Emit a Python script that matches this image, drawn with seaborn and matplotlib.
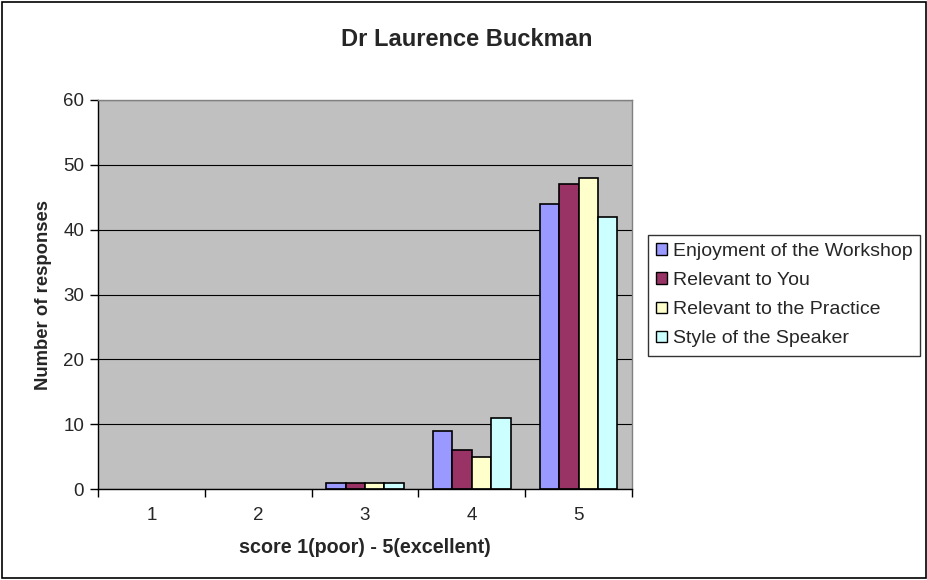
import matplotlib.pyplot as plt
import matplotlib.patches as mpatches
import pandas as pd
import seaborn as sns

scores = ["1", "2", "3", "4", "5"]
enjoyment = [0, 0, 1, 9, 44]
relevant_you = [0, 0, 1, 6, 47]
relevant_practice = [0, 0, 1, 5, 48]
style_speaker = [0, 0, 1, 11, 42]
series_names = ["Enjoyment of the Workshop", "Relevant to You",
                "Relevant to the Practice", "Style of the Speaker"]
colors = ["#9999FF", "#993366", "#FFFFCC", "#CCFFFF"]

df = pd.DataFrame({
    "score": scores * 4,
    "value": enjoyment + relevant_you + relevant_practice + style_speaker,
    "series": [s for s in series_names for _ in scores],
})

sns.set_theme(style="white")
plt.rcParams["font.family"] = ["Liberation Sans", "DejaVu Sans"]

fig = plt.figure(figsize=(9.28, 5.8), dpi=100)
ax = fig.add_axes([98 / 928, 1 - 489 / 580, (632 - 98) / 928, (489 - 100) / 580])

sns.barplot(data=df, x="score", y="value", hue="series", palette=colors,
            width=0.727, edgecolor="black", linewidth=1.2, saturation=1,
            legend=False, ax=ax)

# Excel draws nothing for zero-height bars
for p in ax.patches:
    if p.get_height() == 0:
        p.set_visible(False)

ax.set_facecolor("#C0C0C0")
ax.set_ylim(0, 60)
ax.set_yticks(range(0, 61, 10))
ax.set_xlim(-0.5, 4.5)
ax.yaxis.grid(True, color="black", linewidth=0.8)
ax.set_axisbelow(True)
for side in ["top", "right"]:
    ax.spines[side].set_color("#808080")
    ax.spines[side].set_linewidth(1)
for side in ["left", "bottom"]:
    ax.spines[side].set_color("black")
    ax.spines[side].set_linewidth(1)

# category boundary ticks on x axis
ax.set_xticks([i - 0.5 for i in range(6)], minor=True)
ax.tick_params(axis="x", which="minor", length=6, color="black", width=1, direction="out", bottom=True)
ax.tick_params(axis="x", which="major", length=0, labelsize=13.5, pad=13)
ax.tick_params(axis="y", length=6, color="black", width=1, direction="out", left=True,
               labelsize=13.5, pad=4)

ax.set_xlabel("score 1(poor) - 5(excellent)", fontsize=14.2, fontweight="bold", labelpad=10)
ax.set_ylabel("Number of responses", fontsize=13.3, fontweight="bold", labelpad=8)
fig.text(0.503, 1 - 40 / 580, "Dr Laurence Buckman", ha="center", va="center",
         fontsize=17, fontweight="bold")

handles = [mpatches.Patch(facecolor=c, edgecolor="black", linewidth=1, label=n)
           for c, n in zip(colors, series_names)]
leg = fig.legend(handles=handles, loc="upper left",
                 bbox_to_anchor=(648 / 928, 1 - 235 / 580),
                 frameon=True, fancybox=False, fontsize=14,
                 handlelength=0.55, handleheight=0.55, handletextpad=0.3,
                 labelspacing=0.62, borderpad=0.42, borderaxespad=0)
leg.get_frame().set_edgecolor("black")
leg.get_frame().set_linewidth(1)

fig.patches.append(mpatches.Rectangle((2 / 928, 2 / 580), 924 / 928, 576 / 580,
                                      transform=fig.transFigure, fill=False,
                                      edgecolor="black", linewidth=1.2))

fig.savefig("out.png", dpi=100)
